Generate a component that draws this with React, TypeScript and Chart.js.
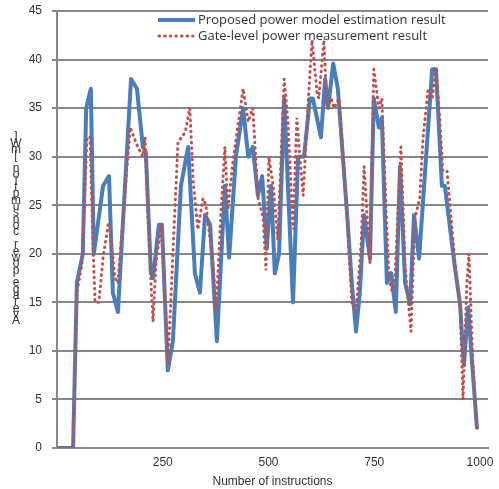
import React, { useEffect, useRef } from 'react';
import { Chart, registerables } from 'chart.js';

Chart.register(...registerables);

const seriesNames = ['Proposed power model estimation result', 'Gate-level power measurement result'];
const xTitle = 'Number of instructions';
const yTitle = 'Average power consumption [mW]';
const xTickValues = [250, 500, 750, 1000];

const proposedX = [0, 38, 47, 61, 69, 80, 87, 109, 123, 132, 144, 175, 189, 203, 210, 222, 227, 241, 248, 262, 274, 293, 310, 326, 338, 350, 362, 378, 397, 407, 423, 440, 452, 463, 475, 485, 496, 506, 515, 525, 537, 558, 570, 584, 598, 605, 624, 634, 641, 653, 664, 686, 697, 707, 716, 726, 740, 749, 761, 768, 780, 790, 801, 811, 823, 835, 844, 856, 887, 896, 910, 917, 941, 953, 962, 972, 981, 993];
const proposedY = [0, 0, 17, 20, 35, 37, 20, 27, 28, 16, 14, 38, 37, 31, 30.5, 18, 17.5, 23, 23, 8, 11, 27, 31, 18, 16, 24, 23, 11, 27, 19.6, 30, 35, 30, 31, 26, 28, 20.5, 27, 18, 20, 36, 15, 30, 30, 36, 36, 32, 38, 35, 39.6, 37, 24, 17, 12, 16, 24, 19.5, 36, 33, 34, 17, 18, 14, 29, 17, 14.8, 24, 19.5, 39, 39, 27, 27, 18.5, 14.8, 8.5, 14.5, 9, 2];

const gateX = [0, 38, 47, 59, 71, 78, 85, 90, 99, 109, 121, 125, 137, 144, 173, 191, 203, 208, 215, 222, 227, 234, 246, 255, 262, 270, 286, 303, 314, 322, 333, 345, 352, 369, 376, 388, 397, 404, 416, 440, 452, 463, 475, 487, 494, 501, 511, 522, 537, 546, 558, 567, 574, 582, 593, 603, 615, 619, 631, 638, 648, 655, 667, 683, 697, 707, 719, 726, 740, 749, 761, 768, 778, 785, 792, 799, 813, 823, 837, 846, 858, 865, 877, 887, 896, 903, 912, 922, 941, 953, 960, 969, 974, 983, 993];
const gateY = [0, 0, 16, 19, 32, 32, 21, 15, 15, 19.6, 23, 22.6, 17.5, 17, 33, 31, 30, 32, 24, 17, 13, 19, 23, 16, 8.5, 16, 31.5, 32.5, 35, 27.5, 22.5, 25.7, 25, 19, 14, 24.5, 31, 24.5, 29.5, 37, 33.6, 35, 25.8, 23.8, 18.3, 30, 27, 21.4, 38, 33.6, 22.5, 34, 30, 26, 35, 42, 36.5, 36, 42, 35, 36, 35, 36, 26, 15, 14, 21, 29, 19, 39, 35, 36, 24.5, 17.5, 16.2, 17.5, 31, 18.6, 12, 23.6, 25.8, 31.7, 36.8, 36, 39, 35, 28.6, 28.6, 19, 14.5, 5, 17, 20, 8.7, 2];

const BLUE = '#4A7EBB';
const RED = '#C0504D';
const GRID = '#878787';
const TEXT = '#333333';
const RED_DASH = [0.6, 5];

const overlay = {
  id: 'overlay',
  beforeDatasetsDraw(chart: any) {
    const ctx = chart.ctx;
    ctx.save();
    ctx.font = '13px "Open Sans"';
    ctx.fillStyle = TEXT;
    ctx.textBaseline = 'middle';
    ctx.textAlign = 'left';
    ctx.strokeStyle = BLUE;
    ctx.lineWidth = 4;
    ctx.beginPath();
    ctx.moveTo(158, 20);
    ctx.lineTo(195, 20);
    ctx.stroke();
    ctx.fillText(seriesNames[0], 198, 20);
    ctx.strokeStyle = RED;
    ctx.lineWidth = 3;
    ctx.lineCap = 'round';
    ctx.setLineDash(RED_DASH);
    ctx.beginPath();
    ctx.moveTo(159, 36);
    ctx.lineTo(193, 36);
    ctx.stroke();
    ctx.setLineDash([]);
    ctx.fillText(seriesNames[1], 198, 36);
    ctx.restore();
  },
  afterDraw(chart: any) {
    const ctx = chart.ctx;
    ctx.save();
    ctx.font = '12px "Liberation Sans"';
    ctx.fillStyle = TEXT;
    ctx.textAlign = 'center';
    ctx.textBaseline = 'middle';
    const chars = Array.from(yTitle).reverse();
    const top = 137;
    const bottom = 321;
    const step = (bottom - top) / (chars.length - 1);
    chars.forEach((c, i) => {
      ctx.fillText(c, 16, top + i * step);
    });
    ctx.restore();
  },
};

export default function App() {
  const ref = useRef<HTMLCanvasElement | null>(null);
  useEffect(() => {
    if (!ref.current) return;
    const font = { family: '"Liberation Sans", Arial, sans-serif', size: 12 };
    const chart = new Chart(ref.current, {
      type: 'line',
      data: {
        datasets: [
          {
            label: seriesNames[0],
            data: proposedX.map((x, i) => ({ x, y: proposedY[i] })),
            borderColor: BLUE,
            backgroundColor: BLUE,
            borderWidth: 4,
            pointRadius: 0,
            tension: 0,
            borderJoinStyle: 'round',
            order: 1,
          },
          {
            label: seriesNames[1],
            data: gateX.map((x, i) => ({ x, y: gateY[i] })),
            borderColor: RED,
            backgroundColor: RED,
            borderWidth: 3,
            borderDash: RED_DASH,
            borderCapStyle: 'round',
            pointRadius: 0,
            tension: 0,
            order: 0,
          },
        ],
      },
      options: {
        animation: false,
        responsive: false,
        devicePixelRatio: 1,
        layout: { padding: { top: 11, right: 11, left: 0, bottom: 0 } },
        plugins: { legend: { display: false }, tooltip: { enabled: false } },
        scales: {
          x: {
            type: 'linear',
            min: 0,
            max: 1019,
            afterBuildTicks: (s: any) => {
              s.ticks = xTickValues.map((v) => ({ value: v }));
            },
            afterFit: (s: any) => {
              s.height = 41;
              s.paddingLeft = 0;
              s.paddingRight = 0;
            },
            ticks: {
              font,
              color: TEXT,
              padding: 7,
              maxRotation: 0,
              autoSkip: false,
              callback: (v: any) => String(v),
            },
            grid: { display: false, drawTicks: false },
            border: { display: true, color: GRID, width: 2 },
            title: { display: true, text: xTitle, font, color: TEXT, padding: 0 },
          },
          y: {
            type: 'linear',
            min: 0,
            max: 45,
            afterFit: (s: any) => {
              s.width = 57;
              s.paddingTop = 0;
              s.paddingBottom = 0;
            },
            ticks: { stepSize: 5, font, color: TEXT, padding: 10 },
            grid: { color: GRID, lineWidth: 2, drawTicks: true, tickLength: 5 },
            border: { display: true, color: GRID, width: 2 },
          },
        },
      },
      plugins: [overlay],
    });
    return () => chart.destroy();
  }, []);
  return (
    <div style={{ position: 'fixed', left: 0, top: 0, width: 499, height: 489, background: '#fff' }}>
      <canvas ref={ref} width={499} height={489} />
    </div>
  );
}
